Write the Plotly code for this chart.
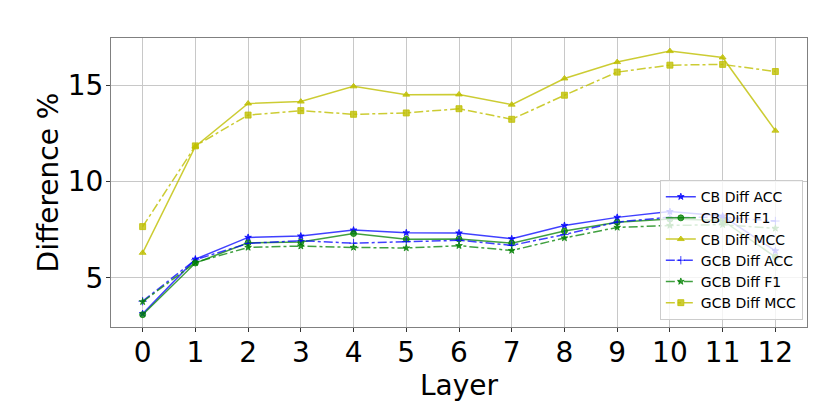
import plotly.graph_objects as go

layers = list(range(13))

cb_acc = [3.14, 5.97, 7.10, 7.17, 7.48, 7.34, 7.33, 7.03, 7.72, 8.14, 8.44, 8.21, 6.40]
cb_f1 = [3.09, 5.77, 6.82, 6.86, 7.30, 7.01, 7.02, 6.80, 7.43, 7.89, 8.05, 7.98, 6.08]
cb_mcc = [6.30, 11.82, 14.05, 14.15, 14.94, 14.51, 14.52, 13.99, 15.35, 16.20, 16.77, 16.44, 12.64]
gcb_acc = [3.79, 5.94, 6.79, 6.93, 6.80, 6.88, 6.95, 6.69, 7.25, 7.90, 8.15, 8.14, 7.95]
gcb_f1 = [3.76, 5.80, 6.58, 6.65, 6.58, 6.55, 6.67, 6.42, 7.07, 7.62, 7.72, 7.76, 7.57]
gcb_mcc = [7.66, 11.85, 13.45, 13.68, 13.49, 13.56, 13.78, 13.23, 14.48, 15.68, 16.04, 16.08, 15.71]

BLUE = "rgba(0,0,255,0.75)"
GREEN = "rgba(0,128,0,0.75)"
YELLOW = "rgba(191,191,0,0.8)"

series = [
    ("CB Diff ACC", cb_acc, BLUE, "solid", "star", 5),
    ("CB Diff F1", cb_f1, GREEN, "solid", "circle", 6),
    ("CB Diff MCC", cb_mcc, YELLOW, "solid", "triangle-up", 6),
    ("GCB Diff ACC", gcb_acc, BLUE, "dashdot", "cross-thin", 6),
    ("GCB Diff F1", gcb_f1, GREEN, "dashdot", "star", 5),
    ("GCB Diff MCC", gcb_mcc, YELLOW, "dashdot", "square", 6),
]

fig = go.Figure()
for name, vals, color, dash, symbol, size in series:
    fig.add_trace(go.Scatter(
        x=layers, y=vals, name=name, mode="lines+markers",
        line=dict(color=color, width=1.5, dash=dash),
        marker=dict(symbol=symbol, size=size, color=color,
                    line=dict(color=color, width=1)),
    ))

axis_common = dict(
    showline=True, mirror=True, linecolor="#808080", linewidth=1,
    showgrid=True, gridcolor="#c8c8c8", gridwidth=1,
    ticks="outside", ticklen=4, tickcolor="#333333",
    tickfont=dict(size=28, color="black"), zeroline=False,
    automargin=False,
)

fig.update_layout(
    width=830, height=415,
    paper_bgcolor="white", plot_bgcolor="white",
    font=dict(family="DejaVu Sans", color="black"),
    margin=dict(l=103, r=31, t=30, b=96),
    xaxis=dict(axis_common, range=[-0.6, 12.6], tickmode="array", tickvals=layers,
               ticklabelstandoff=-4,
               title=dict(text="Layer", font=dict(size=28), standoff=4)),
    yaxis=dict(axis_common, range=[2.45, 17.45], tickvals=[5, 10, 15],
               ticklabelstandoff=-3,
               title=dict(text="Difference %", font=dict(size=28), standoff=0)),
    legend=dict(
        x=0.994, y=0.024, xanchor="right", yanchor="bottom",
        bgcolor="rgba(255,255,255,0.8)", bordercolor="#cccccc", borderwidth=1,
        font=dict(size=14), itemwidth=30, tracegroupgap=0,
    ),
    showlegend=True,
)

fig.write_html("out.html")
